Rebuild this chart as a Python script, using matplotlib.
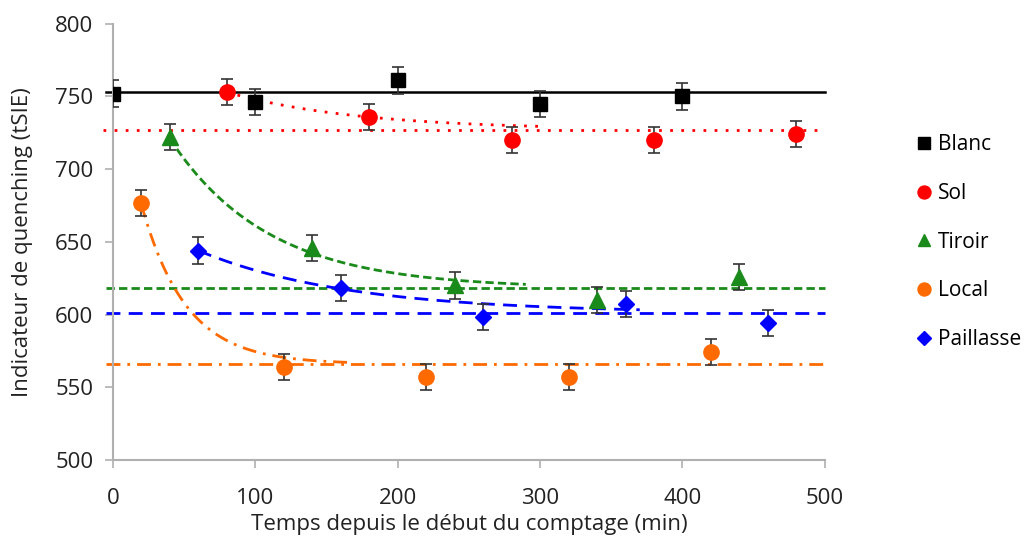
import numpy as np
import matplotlib
matplotlib.use("Agg")
import matplotlib.pyplot as plt

plt.rcParams['font.family'] = ['Open Sans', 'DejaVu Sans']

# Data
blanc_t = [0, 100, 200, 300, 400]
blanc_v = [752, 746, 761, 745, 750]
sol_t = [80, 180, 280, 380, 480]
sol_v = [753, 736, 720, 720, 724]
tiroir_t = [40, 140, 240, 340, 440]
tiroir_v = [722, 646, 620, 610, 626]
local_t = [20, 120, 220, 320, 420]
local_v = [677, 564, 557, 557, 574]
paillasse_t = [60, 160, 260, 360, 460]
paillasse_v = [644, 618, 598, 607, 594]
err = 9

# Plateau levels (horizontal lines)
blanc_plateau = 753
sol_plateau = 727
tiroir_plateau = 618
local_plateau = 566
paillasse_plateau = 601

# Exponential trend parameters: (start t, end t, start value, rate)
sol_fit = (80, 300, 753, 0.0108)
tiroir_fit = (40, 290, 721, 0.0145)
local_fit = (20, 165, 676, 0.032)
paillasse_fit = (60, 370, 644, 0.0095)

fig = plt.figure(figsize=(10.35, 5.41), dpi=100)
ax = fig.add_axes([0.109, 0.150, 0.688, 0.806])

def trend(fit, plateau):
    t0, t1, v0, k = fit
    t = np.linspace(t0, t1, 200)
    return t, plateau + (v0 - plateau) * np.exp(-k * (t - t0))

green = '#1a8a1a'
blue = '#0000ff'
orange = '#ff6a00'

# Plateau lines
ax.plot([-5, 500], [blanc_plateau] * 2, color='black', lw=1.8, zorder=2, clip_on=False)
ax.plot([-7, 500], [sol_plateau] * 2, color='red', lw=2, ls=(0, (1, 3)), zorder=2, clip_on=False)
ax.plot([-5, 500], [tiroir_plateau] * 2, color=green, lw=2, ls=(0, (3, 1.5)), zorder=2, clip_on=False)
ax.plot([-5, 500], [paillasse_plateau] * 2, color=blue, lw=2, ls=(0, (5, 3)), zorder=2, clip_on=False)
ax.plot([-5, 500], [local_plateau] * 2, color=orange, lw=2, ls=(0, (5, 2.5, 1, 2.5)), zorder=2, clip_on=False)

# Trend curves
t, v = trend(sol_fit, sol_plateau)
ax.plot(t, v, color='red', lw=2, ls=(0, (1, 3)), zorder=2)
t, v = trend(tiroir_fit, tiroir_plateau)
ax.plot(t, v, color=green, lw=2, ls=(0, (3, 1.5)), zorder=2)
t, v = trend(paillasse_fit, paillasse_plateau)
ax.plot(t, v, color=blue, lw=2, ls=(0, (5, 3)), zorder=2)
t, v = trend(local_fit, local_plateau)
ax.plot(t, v, color=orange, lw=2, ls=(0, (5, 2.5, 1, 2.5)), zorder=2)

ekw = dict(ecolor='#333333', elinewidth=1.2, capsize=4.5, capthick=1.2, ls='none', zorder=3)
ax.errorbar(blanc_t, blanc_v, yerr=err, marker='s', ms=10, mfc='black', mec='black', label='Blanc', **ekw)
ax.errorbar(sol_t, sol_v, yerr=err, marker='o', ms=11, mfc='red', mec='red', label='Sol', **ekw)
ax.errorbar(tiroir_t, tiroir_v, yerr=err, marker='^', ms=11, mfc=green, mec=green, label='Tiroir', **ekw)
ax.errorbar(local_t, local_v, yerr=err, marker='o', ms=11, mfc=orange, mec=orange, label='Local', **ekw)
ax.errorbar(paillasse_t, paillasse_v, yerr=err, marker='D', ms=8.5, mfc=blue, mec=blue, label='Paillasse', **ekw)

ax.set_xlim(0, 500)
ax.set_ylim(500, 800)
ax.set_xticks([0, 100, 200, 300, 400, 500])
ax.set_yticks([500, 550, 600, 650, 700, 750, 800])
for s in ['top', 'right']:
    ax.spines[s].set_visible(False)
for s in ['left', 'bottom']:
    ax.spines[s].set_color('#b0b0b0')
    ax.spines[s].set_linewidth(1.5)
ax.tick_params(axis='both', direction='out', length=6, width=1.2, color='#b0b0b0',
               labelsize=16, labelcolor='#222222')
ax.tick_params(axis='y', pad=8)
ax.tick_params(axis='x', pad=14)
ax.set_xlabel('Temps depuis le début du comptage (min)', fontsize=16, color='#222222', labelpad=4)
ax.set_ylabel('Indicateur de quenching (tSIE)', fontsize=16, color='#222222', labelpad=16)

handles, labels = ax.get_legend_handles_labels()
handles = [h[0] for h in handles]
leg = fig.legend(handles, labels, loc='upper left', bbox_to_anchor=(0.884, 0.752),
                 frameon=False, fontsize=15, labelspacing=1.33, handletextpad=0.2,
                 handlelength=0.9, markerscale=0.85, borderaxespad=0, borderpad=0)

fig.savefig('out.png', dpi=100)
